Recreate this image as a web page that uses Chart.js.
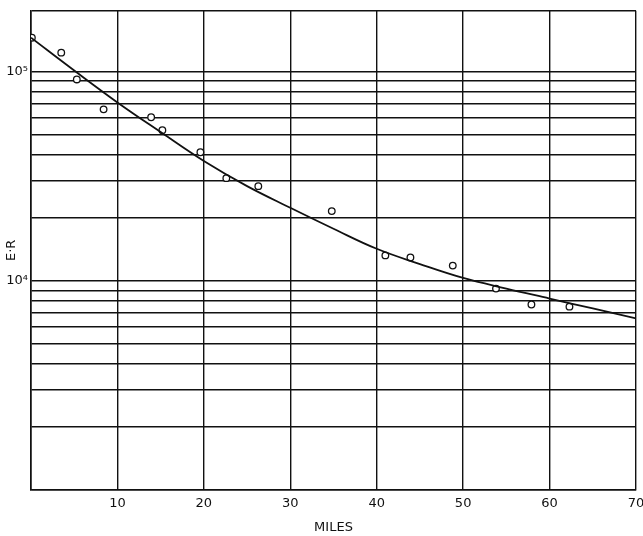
<!DOCTYPE html>
<html>
<head>
<meta charset="utf-8">
<script src="https://cdn.jsdelivr.net/npm/chart.js@4"></script>
<style>
  html, body { margin: 0; padding: 0; background: #fff; }
  #wrap { width: 643px; height: 536px; position: relative; }
</style>
</head>
<body>
<div id="wrap"><canvas id="erChart"></canvas></div>
<script>
// puntos medidos (millas, E·R)
const obsMiles = [0.1, 3.5, 5.3, 8.4, 13.9, 15.2, 19.6, 22.6, 26.3, 34.8, 41.0, 43.9, 48.8, 53.8, 57.9, 62.3];
const obsER = [145000, 123000, 91600, 65900, 60400, 52400, 41100, 30900, 28300, 21500, 13200, 12900, 11800, 9160, 7690, 7510];

// curva suavizada
const curveMiles = [0, 5, 10, 15, 20, 25, 30, 35, 40, 45, 50, 55, 60, 65, 70];
const curveER = [145000, 101000, 71100, 51300, 37300, 28300, 22300, 17700, 14200, 12000, 10300, 9160, 8210, 7360, 6600];

// lineas horizontales del papel logaritmico
const yGridValues = [1000, 2000, 3000, 4000, 5000, 6000, 7000, 8000, 9000,
                     10000, 20000, 30000, 40000, 50000, 60000, 70000, 80000, 90000,
                     100000];
const yLabels = { 10000: '10⁴', 100000: '10⁵' };
const xTicks = [0, 10, 20, 30, 40, 50, 60, 70];

const ink = '#111';
const ctx = document.getElementById('erChart').getContext('2d');
new Chart(ctx, {
    type: 'scatter',
    data: {
        datasets: [
            {
                label: 'curva',
                data: curveMiles.map((m, i) => ({ x: m, y: curveER[i] })),
                showLine: true,
                tension: 0.4,
                borderColor: ink,
                borderWidth: 1.8,
                pointRadius: 0,
                fill: false
            },
            {
                label: 'observado',
                data: obsMiles.map((m, i) => ({ x: m, y: obsER[i] })),
                pointRadius: 3.3,
                pointBorderWidth: 1.3,
                pointBorderColor: ink,
                pointBackgroundColor: '#fff'
            }
        ]
    },
    options: {
        responsive: true,
        maintainAspectRatio: false,
        animation: false,
        layout: { padding: { top: 10, right: 0, bottom: 0, left: 0 } },
        plugins: {
            legend: { display: false },
            tooltip: { enabled: false }
        },
        scales: {
            x: {
                type: 'linear',
                min: 0,
                max: 70,
                afterBuildTicks: scale => { scale.ticks = xTicks.map(v => ({ value: v })); },
                afterFit: scale => { scale.paddingRight = 7; scale.paddingLeft = 0; },
                grid: { color: ink, lineWidth: 1.4, drawTicks: false },
                border: { color: ink, width: 1.6 },
                ticks: {
                    padding: 6,
                    color: ink,
                    font: { family: 'DejaVu Sans', size: 13 },
                    callback: v => v === 0 ? '' : String(v)
                },
                title: {
                    display: true,
                    text: 'MILES',
                    color: ink,
                    font: { family: 'DejaVu Sans', size: 13 },
                    padding: { top: 2, bottom: 1 }
                }
            },
            y: {
                type: 'logarithmic',
                min: 1000,
                max: 195000,
                afterBuildTicks: scale => {
                    // la linea superior del marco va en el maximo
                    scale.ticks = yGridValues.map(v => ({ value: v })).concat([{ value: scale.max }]);
                },
                afterFit: scale => { scale.width = 31; },
                grid: { color: ink, lineWidth: 1.4, drawTicks: false },
                border: { color: ink, width: 1.6 },
                ticks: {
                    padding: 3,
                    color: ink,
                    autoSkip: false,
                    font: { family: 'DejaVu Sans', size: 13 },
                    callback: v => yLabels[v] || ''
                },
                title: {
                    display: true,
                    text: 'E·R',
                    color: ink,
                    font: { family: 'DejaVu Sans', size: 13 },
                    padding: { top: 4, bottom: 0 }
                }
            }
        }
    }
});
</script>
</body>
</html>
